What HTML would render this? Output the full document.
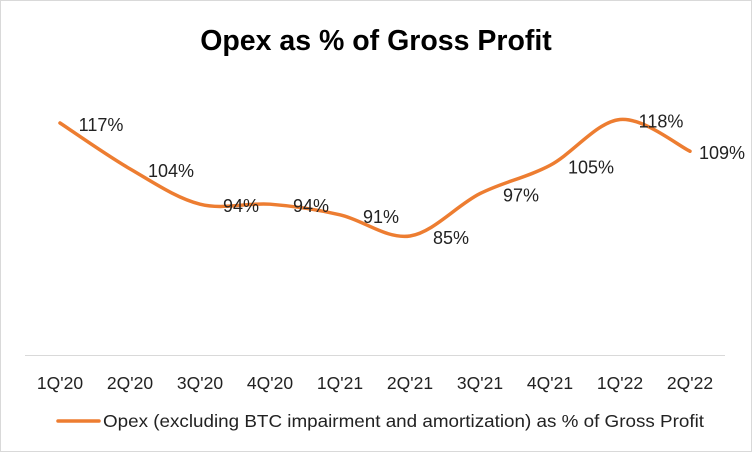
<!DOCTYPE html>
<html><head><meta charset="utf-8"><style>
body{margin:0;background:#fff;font-family:"Liberation Sans",Arial,sans-serif;}
svg{display:block}
</style></head><body>
<svg width="752" height="452" xmlns="http://www.w3.org/2000/svg">
<rect x="0.5" y="0.5" width="751" height="451" fill="#fff" stroke="#d9d9d9"/>
<text x="376" y="50" text-anchor="middle" font-size="28.5" font-weight="bold" font-family="Liberation Sans, Arial, sans-serif">Opex as % of Gross Profit</text>
<line x1="25" y1="355.5" x2="725" y2="355.5" stroke="#d9d9d9" stroke-width="1"/>
<g id="marks"></g>
<g id="labels"></g>
<g id="ticks"></g>
<line x1="58" y1="421" x2="99" y2="421" stroke="#ED7D31" stroke-width="3.5" stroke-linecap="round"/>
<text x="103" y="427" font-size="17.5" textLength="601" lengthAdjust="spacingAndGlyphs" font-family="Liberation Sans, Arial, sans-serif" fill="#222">Opex (excluding BTC impairment and amortization) as % of Gross Profit</text>
</svg>
<script>
const categories=["1Q'20","2Q'20","3Q'20","4Q'20","1Q'21","2Q'21","3Q'21","4Q'21","1Q'22","2Q'22"];
const values=[117,104,94,94,91,85,97,105,118,109];
const NS="http://www.w3.org/2000/svg";
function xs(i){return 60+i*70;}
function ys(v){return 123+(117-v)*3.53;}
const pts=values.map((v,i)=>[xs(i),ys(v)]);
let d="M"+pts[0][0]+","+pts[0][1];
for(let i=0;i<pts.length-1;i++){
  const p0=pts[i-1]||pts[i],p1=pts[i],p2=pts[i+1],p3=pts[i+2]||pts[i+1];
  const c1=[p1[0]+(p2[0]-p0[0])/6,p1[1]+(p2[1]-p0[1])/6];
  const c2=[p2[0]-(p3[0]-p1[0])/6,p2[1]-(p3[1]-p1[1])/6];
  d+=" C"+c1+" "+c2+" "+p2;
}
const path=document.createElementNS(NS,"path");
path.setAttribute("d",d);path.setAttribute("fill","none");path.setAttribute("stroke","#ED7D31");
path.setAttribute("stroke-width","3.5");path.setAttribute("stroke-linecap","round");


document.getElementById("marks").appendChild(path);
values.forEach((v,i)=>{
  const t=document.createElementNS(NS,"text");
  t.setAttribute("x",Math.min(xs(i)+41,722));t.setAttribute("y",ys(v)+8);
  t.setAttribute("text-anchor","middle");t.setAttribute("font-size","18");t.setAttribute("fill","#222");
  t.textContent=v+"%";
  
  
  document.getElementById("labels").appendChild(t);
});
categories.forEach((c,i)=>{
  const t=document.createElementNS(NS,"text");
  t.setAttribute("x",xs(i));t.setAttribute("y",389);
  t.setAttribute("text-anchor","middle");t.setAttribute("font-size","17.5");t.setAttribute("fill","#222");
  t.textContent=c;
  
  
  document.getElementById("ticks").appendChild(t);
});
</script>
</body></html>
